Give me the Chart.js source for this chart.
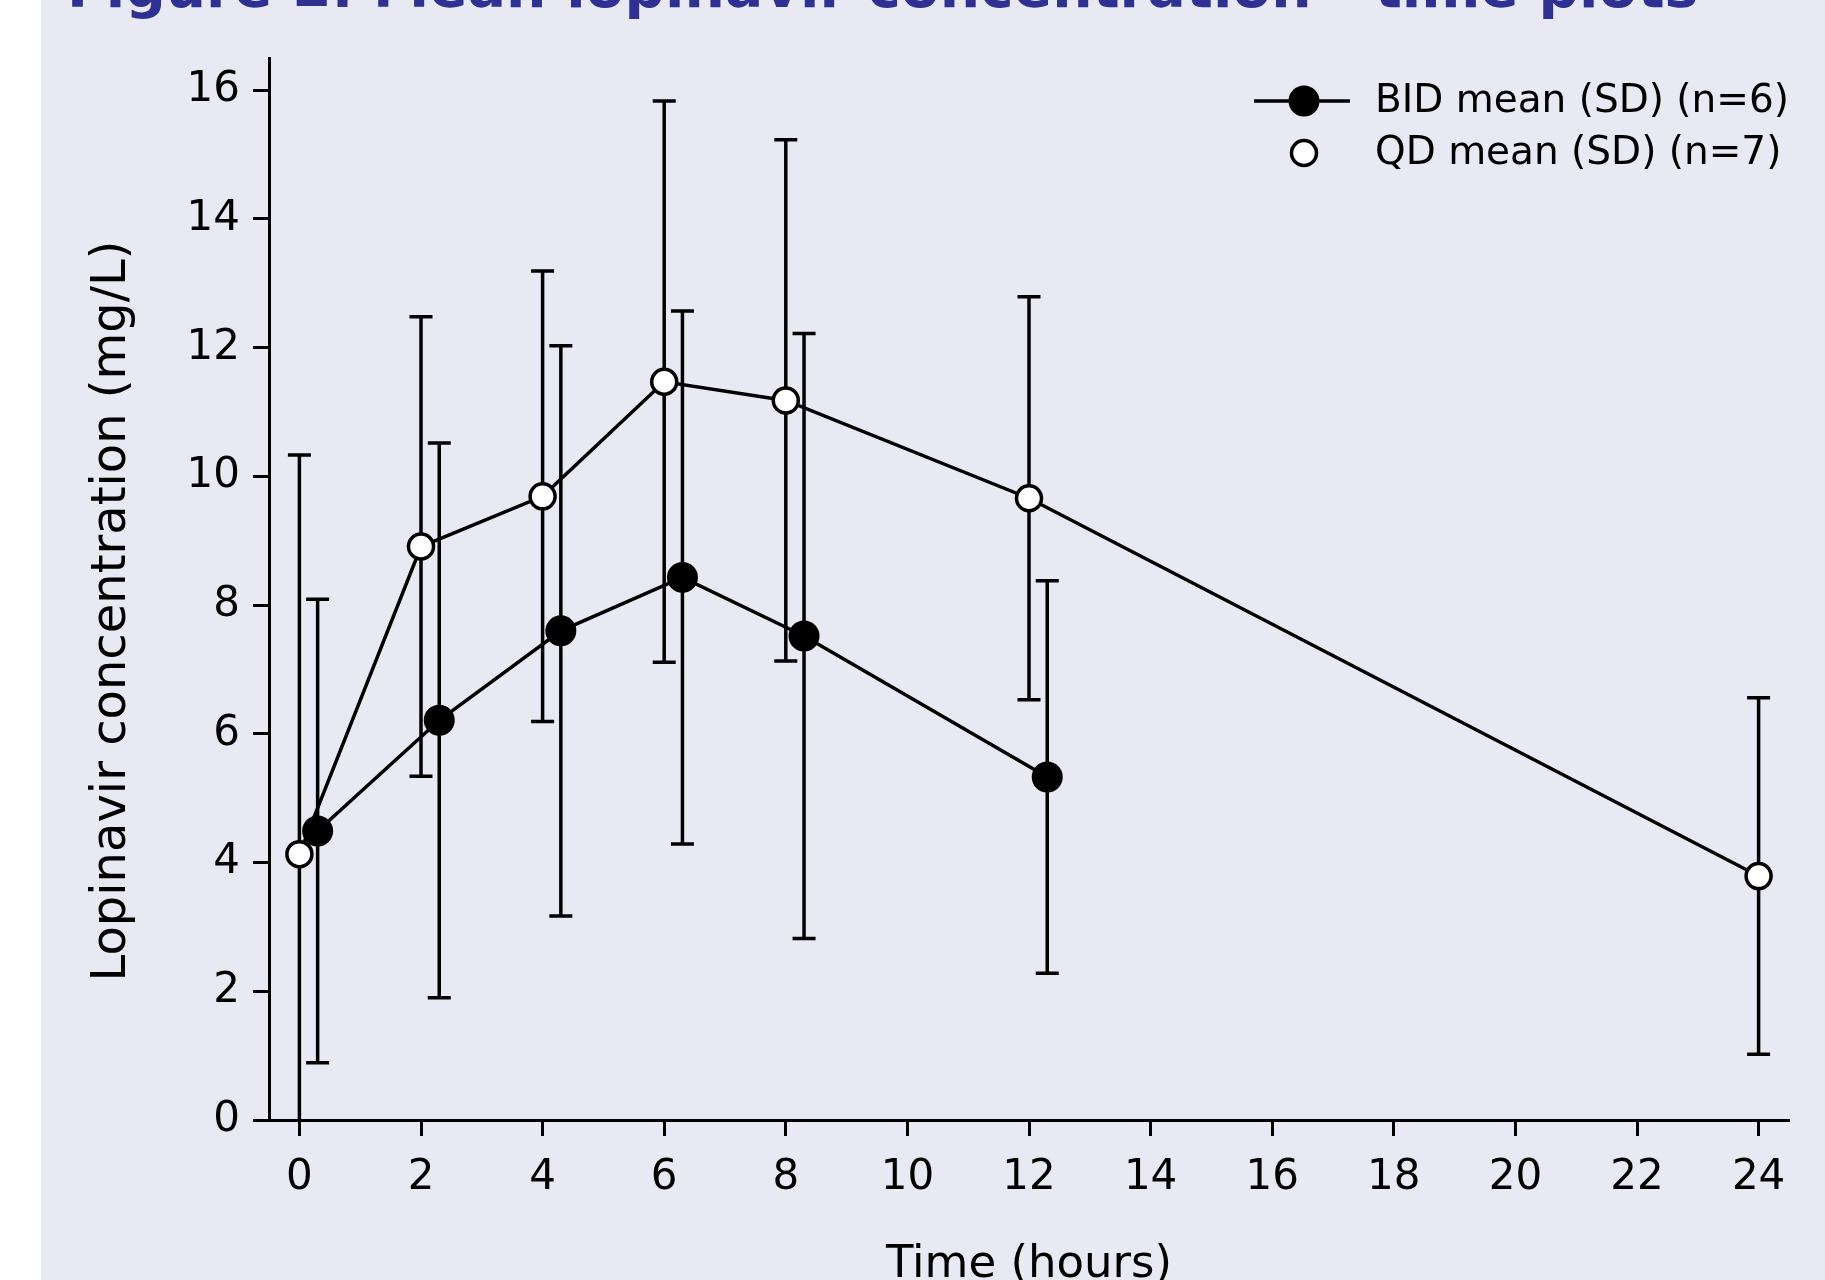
<!DOCTYPE html>
<html>
<head>
<meta charset="utf-8">
<script src="https://cdn.jsdelivr.net/npm/chart.js@4.4.1/dist/chart.umd.min.js"></script>
<style>
  html, body { margin: 0; padding: 0; width: 1825px; height: 1280px; overflow: hidden; background: #fff; }
  #panel { position: absolute; left: 41px; top: 0; width: 1784px; height: 1320px; background: #e9e9f3; }
</style>
</head>
<body>
<div id="panel"><canvas id="pk"></canvas></div>
<script>
// Mean lopinavir concentration - time, BID vs QD

var titleText = 'Figure 2. Mean lopinavir concentration - time plots';
var yTitle = 'Lopinavir concentration (mg/L)';
var xTitle = 'Time (hours)';

var xTicks = [0, 2, 4, 6, 8, 10, 12, 14, 16, 18, 20, 22, 24];
var yTicks = [0, 2, 4, 6, 8, 10, 12, 14, 16];

// BID points are plotted slightly right of the nominal time
var bidTime = [0.3, 2.3, 4.3, 6.3, 8.3, 12.3];
var bidMean = [4.49, 6.21, 7.60, 8.43, 7.52, 5.33];
var bidSD = [3.60, 4.31, 4.43, 4.14, 4.70, 3.05];

var qdTime = [0, 2, 4, 6, 8, 12, 24];
var qdMean = [4.13, 8.91, 9.69, 11.47, 11.18, 9.66, 3.79];
var qdSD = [6.20, 3.57, 3.50, 4.36, 4.05, 3.13, 2.77];

var FONT = 'DejaVu Sans';
var LW = 3.5;

function points(t, m) {
  return t.map(function (x, i) { return { x: x, y: m[i] }; });
}

// vertical SD bars with caps, drawn under the lines and markers
var errorBars = {
  id: 'errorBars',
  beforeDatasetsDraw: function (chart) {
    var ctx = chart.ctx, a = chart.chartArea;
    var xs = chart.scales.x, ys = chart.scales.y;
    ctx.save();
    ctx.beginPath();
    ctx.rect(a.left, a.top - 5, a.right - a.left, a.bottom - a.top + 5);
    ctx.clip();
    ctx.strokeStyle = '#000';
    ctx.lineWidth = LW;
    chart.data.datasets.forEach(function (ds) {
      ds.data.forEach(function (p, i) {
        var px = xs.getPixelForValue(p.x);
        var hi = p.y + ds.sd[i], lo = p.y - ds.sd[i];
        var top = ys.getPixelForValue(hi);
        var bot = ys.getPixelForValue(Math.max(lo, ys.min));
        ctx.beginPath();
        ctx.moveTo(px, top);
        ctx.lineTo(px, bot);
        [hi, lo].forEach(function (v) {
          if (v < ys.min) return;
          var py = ys.getPixelForValue(v);
          ctx.moveTo(px - 11.5, py);
          ctx.lineTo(px + 11.5, py);
        });
        ctx.stroke();
      });
    });
    ctx.restore();
  }
};

// legend, y title and figure heading
var extras = {
  id: 'extras',
  afterDraw: function (chart) {
    var ctx = chart.ctx;
    var sets = chart.data.datasets;
    ctx.save();

    // legend
    ctx.fillStyle = '#000';
    ctx.strokeStyle = '#000';
    ctx.font = '39px "' + FONT + '"';
    ctx.textBaseline = 'middle';
    ctx.textAlign = 'left';
    var rows = [101, 153];
    var mx = 1263;
    ctx.lineWidth = LW;
    ctx.beginPath();
    ctx.moveTo(1213, rows[0]);
    ctx.lineTo(1309, rows[0]);
    ctx.stroke();
    sets.forEach(function (ds, i) {
      ctx.beginPath();
      ctx.arc(mx, rows[i], ds.pointRadius, 0, Math.PI * 2);
      ctx.fillStyle = ds.pointBackgroundColor;
      ctx.fill();
      ctx.lineWidth = ds.pointBorderWidth;
      ctx.stroke();
      ctx.fillStyle = '#000';
      ctx.fillText(ds.label, 1334, rows[i] + 1);
    });

    // y axis title
    ctx.save();
    ctx.translate(72, 611);
    ctx.rotate(-Math.PI / 2);
    ctx.font = '48px "' + FONT + '"';
    ctx.textAlign = 'center';
    ctx.textBaseline = 'middle';
    ctx.fillText(yTitle, 0, 0);
    ctx.restore();

    // heading, cut off by the top edge
    ctx.font = 'bold 52px "' + FONT + '"';
    var w = ctx.measureText(titleText).width;
    ctx.font = 'bold ' + (52 * 1633 / w).toFixed(1) + 'px "' + FONT + '"';
    ctx.fillStyle = '#2e3192';
    ctx.textBaseline = 'alphabetic';
    ctx.fillText(titleText, 26, 7);
    ctx.restore();
  }
};

var axisGrid = {
  drawOnChartArea: false,
  drawTicks: true,
  tickLength: 16,
  tickWidth: 3,
  tickColor: '#000'
};

var ctx = document.getElementById('pk').getContext('2d');
new Chart(ctx, {
  type: 'scatter',
  data: {
    datasets: [
      {
        label: 'BID mean (SD) (n=6)',
        data: points(bidTime, bidMean),
        sd: bidSD,
        showLine: true,
        borderColor: '#000',
        borderWidth: LW,
        pointRadius: 14.5,
        pointBorderWidth: 2,
        pointBackgroundColor: '#000',
        pointBorderColor: '#000'
      },
      {
        label: 'QD mean (SD) (n=7)',
        data: points(qdTime, qdMean),
        sd: qdSD,
        showLine: true,
        borderColor: '#000',
        borderWidth: LW,
        pointRadius: 12.5,
        pointBorderWidth: 3.5,
        pointBackgroundColor: '#fff',
        pointBorderColor: '#000'
      }
    ]
  },
  options: {
    responsive: true,
    maintainAspectRatio: false,
    animation: false,
    events: [],
    layout: { padding: { top: 58, right: 36, left: 0, bottom: 0 } },
    plugins: { legend: { display: false }, tooltip: { enabled: false } },
    scales: {
      x: {
        type: 'linear',
        min: -0.5,
        max: 24.5,
        afterBuildTicks: function (s) { s.ticks = xTicks.map(function (v) { return { value: v }; }); },
        afterFit: function (s) { s.height = 200; },
        grid: axisGrid,
        border: { display: true, color: '#000', width: 3 },
        ticks: { color: '#000', padding: 17, maxRotation: 0, font: { family: FONT, size: 42 } },
        title: { display: true, text: xTitle, color: '#000', padding: { top: 0, bottom: 28 }, font: { family: FONT, size: 45 } }
      },
      y: {
        min: 0,
        max: 16.5,
        afterBuildTicks: function (s) { s.ticks = yTicks.map(function (v) { return { value: v }; }); },
        afterFit: function (s) { s.width = 228; },
        grid: axisGrid,
        border: { display: true, color: '#000', width: 3 },
        ticks: { color: '#000', padding: 13, font: { family: FONT, size: 42 } }
      }
    }
  },
  plugins: [errorBars, extras]
});
</script>
</body>
</html>
